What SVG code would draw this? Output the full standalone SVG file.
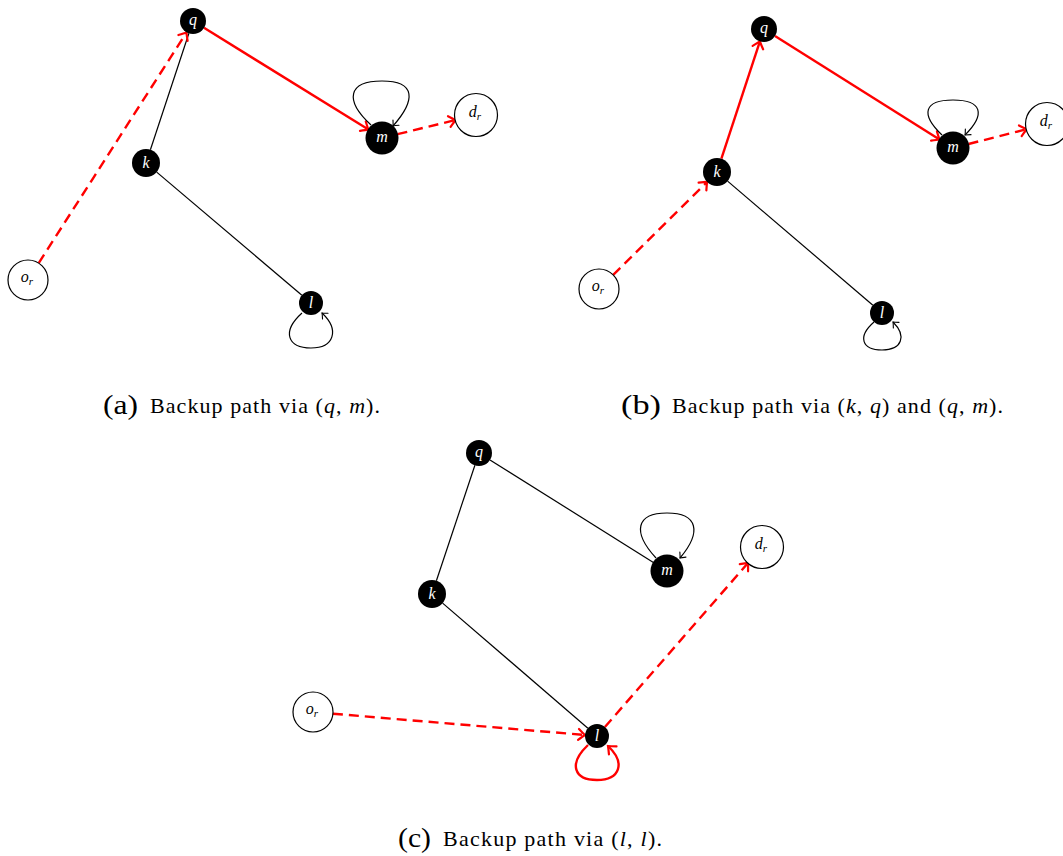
<svg xmlns="http://www.w3.org/2000/svg" width="1063" height="856" viewBox="0 0 1063 856">
<style>
.bg{fill:#fff}
.nb{fill:#000}
.nw{fill:#fff;stroke:#000;stroke-width:1.2}
.lw{fill:#fff;font-family:"Liberation Serif",serif;font-style:italic;font-size:16px;text-anchor:middle}
.lk{fill:#000;font-family:"Liberation Serif",serif;font-style:italic;font-size:16px;text-anchor:middle}
.sub{font-size:11px}
.e{fill:none;stroke:#000;stroke-width:1.2}
.r{fill:none;stroke:#f00;stroke-width:2.4}
.d{stroke-dasharray:10 6}
.cap{font-family:"Liberation Serif",serif;font-size:22px;fill:#000}
.capl{font-family:"Liberation Serif",serif;font-size:27px;fill:#000}
.it{font-style:italic}
</style>
<defs>
<marker id="ar" markerUnits="userSpaceOnUse" markerWidth="16" markerHeight="16" viewBox="-12 -8 16 16" refX="0" refY="0" orient="auto">
<path d="M-6.5,-5.5 Q-2,-1.5 0,0 Q-2,1.5 -6.5,5.5" fill="none" stroke="#f00" stroke-width="2.2" stroke-linecap="round"/>
</marker>
<marker id="ak" markerUnits="userSpaceOnUse" markerWidth="12" markerHeight="12" viewBox="-9 -6 12 12" refX="0" refY="0" orient="auto">
<path d="M-4.5,-4 Q-1.5,-1 0,0 Q-1.5,1 -4.5,4" fill="none" stroke="#000" stroke-width="1.1" stroke-linecap="round"/>
</marker>
</defs>
<rect class="bg" x="0" y="0" width="1063" height="856"/>

<g id="connectors">
<!-- panel a -->
<line class="e" x1="150.4" y1="149.7" x2="188.9" y2="33.3"/>
<line class="e" x1="156.7" y1="172.1" x2="301.9" y2="295.2"/>
<line class="r d" x1="38.7" y1="263.1" x2="186.5" y2="32.5" marker-end="url(#ar)"/>
<line class="r" x1="204" y1="27.8" x2="368.4" y2="129.6" marker-end="url(#ar)"/>
<line class="r d" x1="397.5" y1="134.2" x2="455.6" y2="120" marker-end="url(#ar)"/>
<path class="e" d="M371,125 C344,100 348,81 382,81 C416,81 416,100 393,126" marker-end="url(#ak)"/>
<path class="e" d="M302,313 C281,332 288,348 311,348 C334,348 340,330 322,313" marker-end="url(#ak)"/>
<!-- panel b -->
<line class="e" x1="727.6" y1="181.1" x2="872.9" y2="305.2"/>
<line class="r d" x1="613.2" y1="274.9" x2="707.1" y2="181.9" marker-end="url(#ar)"/>
<line class="r" x1="721.4" y1="158.7" x2="759.9" y2="41.4" marker-end="url(#ar)"/>
<line class="r" x1="775" y1="35.9" x2="939.5" y2="139.5" marker-end="url(#ar)"/>
<line class="r d" x1="968.5" y1="144" x2="1026.6" y2="129.2" marker-end="url(#ar)"/>
<path class="e" d="M942,135 C920,114 924,100 953,100 C982,100 986,114 965,135" marker-end="url(#ak)"/>
<path class="e" d="M874,322 C857,337 862,350 882,350 C902,350 907,336 893,322" marker-end="url(#ak)"/>
<!-- panel c -->
<line class="e" x1="490" y1="459.9" x2="653.4" y2="562.5"/>
<line class="e" x1="474.9" y1="465.3" x2="436.4" y2="580.7"/>
<line class="e" x1="442.6" y1="603.1" x2="587.9" y2="728.2"/>
<line class="r d" x1="332.9" y1="713.7" x2="585" y2="735" marker-end="url(#ar)"/>
<line class="r d" x1="604.9" y1="727" x2="748.2" y2="562.8" marker-end="url(#ar)"/>
<path class="e" d="M656,558 C632,532 636,513 667,513 C698,513 702,532 680,558" marker-end="url(#ak)"/>
<path class="r" d="M588,745 C568,764 574,780 597,780 C620,780 626,763 608,746" marker-end="url(#ar)"/>
</g>

<!-- panel a nodes -->
<g id="a-q"><circle class="nb" cx="193" cy="21" r="13"/><text class="lw" x="193" y="25">q</text></g>
<g id="a-k"><circle class="nb" cx="146" cy="163" r="14"/><text class="lw" x="146" y="168">k</text></g>
<g id="a-m"><circle class="nb" cx="382" cy="138" r="16.5"/><text class="lw" x="382" y="142">m</text></g>
<g id="a-l"><circle class="nb" cx="311" cy="303" r="12"/><text class="lw" x="311" y="308">l</text></g>
<g id="a-or"><circle class="nw" cx="28" cy="280" r="20"/><text class="lk" x="27" y="282">o<tspan class="sub" dy="3">r</tspan></text></g>
<g id="a-dr"><circle class="nw" cx="476" cy="115" r="21.5"/><text class="lk" x="475" y="117">d<tspan class="sub" dy="3">r</tspan></text></g>

<!-- panel b nodes -->
<g id="b-q"><circle class="nb" cx="764" cy="29" r="13"/><text class="lw" x="764" y="33">q</text></g>
<g id="b-k"><circle class="nb" cx="717" cy="172" r="14"/><text class="lw" x="717" y="177">k</text></g>
<g id="b-m"><circle class="nb" cx="953" cy="148" r="16.5"/><text class="lw" x="953" y="152">m</text></g>
<g id="b-l"><circle class="nb" cx="882" cy="313" r="12"/><text class="lw" x="882" y="318">l</text></g>
<g id="b-or"><circle class="nw" cx="599" cy="289" r="20"/><text class="lk" x="598" y="291">o<tspan class="sub" dy="3">r</tspan></text></g>
<g id="b-dr"><circle class="nw" cx="1047" cy="124" r="21.5"/><text class="lk" x="1046" y="126">d<tspan class="sub" dy="3">r</tspan></text></g>

<!-- panel c nodes -->
<g id="c-q"><circle class="nb" cx="479" cy="453" r="13"/><text class="lw" x="479" y="457">q</text></g>
<g id="c-k"><circle class="nb" cx="432" cy="594" r="14"/><text class="lw" x="432" y="599">k</text></g>
<g id="c-m"><circle class="nb" cx="667" cy="571" r="16.5"/><text class="lw" x="667" y="575">m</text></g>
<g id="c-l"><circle class="nb" cx="597" cy="736" r="12"/><text class="lw" x="597" y="741">l</text></g>
<g id="c-or"><circle class="nw" cx="313" cy="712" r="20"/><text class="lk" x="312" y="714">o<tspan class="sub" dy="3">r</tspan></text></g>
<g id="c-dr"><circle class="nw" cx="762" cy="547" r="21.5"/><text class="lk" x="761" y="549">d<tspan class="sub" dy="3">r</tspan></text></g>

<!-- captions -->
<g id="caption-a">
<text class="capl" x="103" y="414" textLength="35" lengthAdjust="spacingAndGlyphs">(a)</text>
<text class="cap" x="150" y="413" textLength="230">Backup path via (<tspan class="it">q</tspan>, <tspan class="it">m</tspan>).</text>
</g>
<g id="caption-b">
<text class="capl" x="621" y="414" textLength="40" lengthAdjust="spacingAndGlyphs">(b)</text>
<text class="cap" x="672" y="413" textLength="331">Backup path via (<tspan class="it">k</tspan>, <tspan class="it">q</tspan>) and (<tspan class="it">q</tspan>, <tspan class="it">m</tspan>).</text>
</g>
<g id="caption-c">
<text class="capl" x="398" y="847" textLength="33" lengthAdjust="spacingAndGlyphs">(c)</text>
<text class="cap" x="443" y="846" textLength="219">Backup path via (<tspan class="it">l</tspan>, <tspan class="it">l</tspan>).</text>
</g>
</svg>
